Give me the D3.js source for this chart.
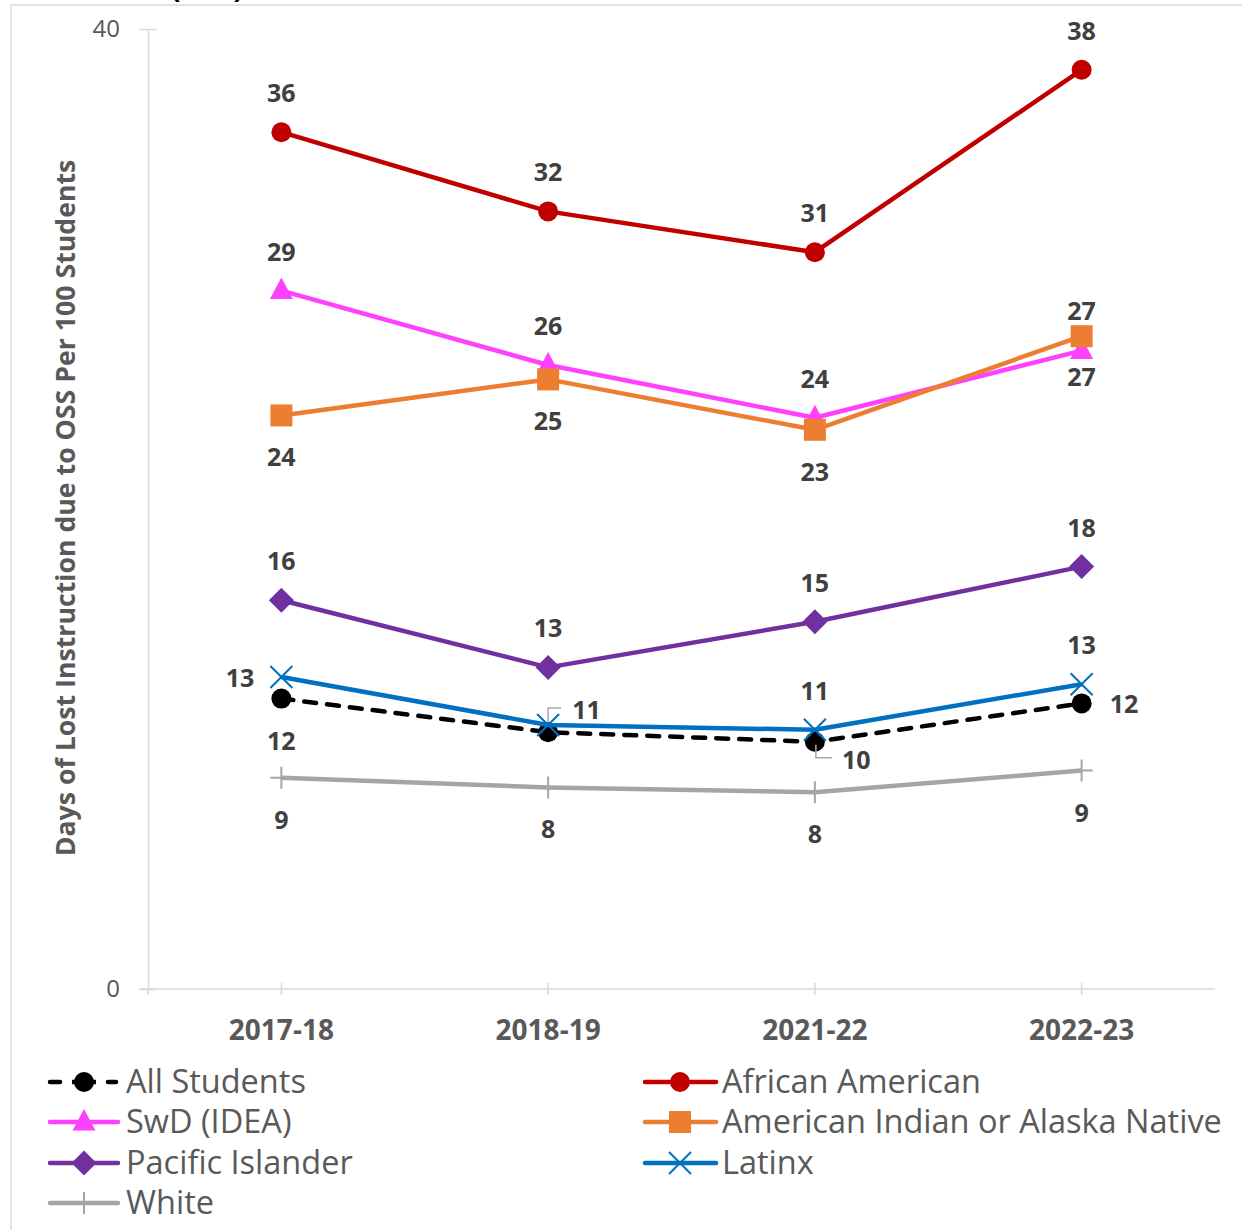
<!DOCTYPE html>
<html><head><meta charset="utf-8">
<script src="https://cdn.jsdelivr.net/npm/d3@7"></script>
<style>
body{margin:0;background:#fff}
svg{display:block}
text{font-family:'Open Sans','Noto Sans',sans-serif}
</style>
</head><body>
<svg id="c" width="1242" height="1230"></svg>
<script>
// ---------- data ----------
const categories = ["2017-18", "2018-19", "2021-22", "2022-23"];
const seriesNames = ["All Students", "African American", "SwD (IDEA)", "American Indian or Alaska Native", "Pacific Islander", "Latinx", "White"];
const allStudents = [12.1, 10.7, 10.3, 11.9];
const africanAmerican = [35.7, 32.4, 30.7, 38.3];
const swdIdea = [29.1, 26.0, 23.8, 26.6];
const americanIndian = [23.9, 25.4, 23.3, 27.2];
const pacificIslander = [16.2, 13.4, 15.3, 17.6];
const latinx = [13.0, 11.0, 10.8, 12.7];
const white = [8.8, 8.4, 8.2, 9.1];
const yTickValues = [0, 40];
const yTitle = "Days of Lost Instruction due to OSS Per 100 Students";

// ---------- styling / layout (not data) ----------
const seriesValues = [allStudents, africanAmerican, swdIdea, americanIndian, pacificIslander, latinx, white];
const styles = [
  {color: "#000000", marker: "circle", dash: "12,11"},
  {color: "#C00000", marker: "circle"},
  {color: "#FF40FF", marker: "triangle"},
  {color: "#ED7D31", marker: "square"},
  {color: "#7030A0", marker: "diamond"},
  {color: "#0070C0", marker: "x"},
  {color: "#A5A5A5", marker: "plus"}
];
const labelPlacement = [
  ["below", "none", "leaderDown", "right"],
  ["above", "above", "above", "above"],
  ["above", "above", "above", "belowNear"],
  ["below", "below", "below", "aboveNear"],
  ["above", "above", "above", "above"],
  ["left", "leaderUp", "above", "above"],
  ["below", "below", "below", "below"]
];

const W = 1242, H = 1230;
const plot = {left: 148, right: 1215, top: 29, bottom: 989};
const svg = d3.select("#c");

// chart border + cut-off title
svg.append("rect").attr("x", 11).attr("y", 5).attr("width", W + 20).attr("height", H + 20)
  .attr("fill", "none").attr("stroke", "#D9D9D9").attr("stroke-width", 1.5);
svg.append("text").attr("x", 243).attr("y", -2).attr("text-anchor", "end")
  .attr("font-size", 28).attr("font-weight", 700).attr("fill", "#000").text("(OSS)");

const x = d3.scaleBand().domain(categories).range([plot.left, plot.right]).padding(0);
const cx = c => x(c) + x.bandwidth() / 2;
const y = d3.scaleLinear().domain([0, 40]).range([plot.bottom, plot.top]);

// y axis
const yAxis = svg.append("g").attr("transform", `translate(${plot.left},0)`)
  .call(d3.axisLeft(y).tickValues(yTickValues).tickSize(0).tickPadding(28));
yAxis.select(".domain").attr("stroke", "#D9D9D9").attr("stroke-width", 1.5);
yAxis.selectAll(".tick text").attr("font-size", 24).attr("fill", "#595959")
  .attr("font-family", "'Open Sans',sans-serif");
yAxis.selectAll(".tick").append("line").attr("x1", -9).attr("x2", 9)
  .attr("stroke", "#D9D9D9").attr("stroke-width", 1.5);

// x axis
const xAxis = svg.append("g").attr("transform", `translate(0,${plot.bottom})`)
  .call(d3.axisBottom(x).tickSize(0).tickPadding(31));
xAxis.select(".domain").remove();
xAxis.append("line").attr("x1", plot.left - 8).attr("x2", plot.right)
  .attr("stroke", "#D9D9D9").attr("stroke-width", 1.5);
xAxis.selectAll(".tick").append("line").attr("y1", -6).attr("y2", 6)
  .attr("stroke", "#D9D9D9").attr("stroke-width", 1.5);
xAxis.append("line").attr("x1", plot.left).attr("x2", plot.left).attr("y1", 0).attr("y2", 6)
  .attr("stroke", "#D9D9D9").attr("stroke-width", 1.5);
xAxis.selectAll(".tick text").attr("font-size", 28).attr("font-weight", 700)
  .attr("fill", "#595959").attr("font-family", "'Open Sans',sans-serif");

// y title, fitted to its length in the reference
const yt = svg.append("text").attr("transform", "translate(75,508) rotate(-90)")
  .attr("text-anchor", "middle").attr("font-size", 24).attr("font-weight", 700)
  .attr("fill", "#595959").text(yTitle);
const len = yt.node().getComputedTextLength();
yt.attr("font-size", 24 * 697 / len);

// marker drawing
function markerPath(type) {
  switch (type) {
    case "circle": return d3.symbol(d3.symbolCircle, Math.PI * 100)();
    case "square": return "M-11,-11H11V11H-11Z";
    case "triangle": return "M0,-13L11.5,8.5L-11.5,8.5Z";
    case "diamond": return "M0,-12.5L12.5,0L0,12.5L-12.5,0Z";
    case "x": return "M-11,-11L11,11M-11,11L11,-11";
    case "plus": return "M0,-11V11M-11,0H11";
  }
}
function drawMarker(g, type, color, px, py) {
  const open = type === "x" || type === "plus";
  g.append("path").attr("d", markerPath(type)).attr("transform", `translate(${px},${py})`)
    .attr("fill", open ? "none" : color).attr("stroke", color)
    .attr("stroke-width", open ? 2 : 0);
}

const line = d3.line().x((d, i) => cx(categories[i])).y(d => y(d));
const gSeries = svg.append("g");
seriesValues.forEach((vals, si) => {
  const st = styles[si];
  const g = gSeries.append("g");
  g.append("path").datum(vals).attr("d", line).attr("fill", "none")
    .attr("stroke", st.color).attr("stroke-width", 4.5)
    .attr("stroke-linecap", st.dash ? "round" : "butt")
    .attr("stroke-linejoin", "round")
    .attr("stroke-dasharray", st.dash || null);
  vals.forEach((v, i) => drawMarker(g, st.marker, st.color, cx(categories[i]), y(v)));
});

// data labels
const gLabels = svg.append("g");
seriesValues.forEach((vals, si) => {
  vals.forEach((v, i) => {
    const pos = labelPlacement[si][i];
    if (pos === "none") return;
    const px = cx(categories[i]), py = y(v);
    let tx = px, tcy = py, anchor = "middle";
    if (pos === "above") tcy = py - 39;
    else if (pos === "below") tcy = py + 42;
    else if (pos === "aboveNear") tcy = py - 25;
    else if (pos === "belowNear") tcy = py + 26;
    else if (pos === "left") { tx = px - 27; anchor = "end"; tcy = py + 1; }
    else if (pos === "right") { tx = px + 28; anchor = "start"; tcy = py + 1; }
    else if (pos === "leaderUp") {
      tx = px + 24; anchor = "start"; tcy = py - 15;
      gLabels.append("path").attr("d", `M${px},${py - 3}V${py - 17}H${px + 13}`)
        .attr("fill", "none").attr("stroke", "#A6A6A6").attr("stroke-width", 1.5);
    } else if (pos === "leaderDown") {
      tx = px + 27; anchor = "start"; tcy = py + 18;
      gLabels.append("path").attr("d", `M${px + 1},${py + 3}V${py + 16}H${px + 17}`)
        .attr("fill", "none").attr("stroke", "#A6A6A6").attr("stroke-width", 1.5);
    }
    gLabels.append("text").attr("x", tx).attr("y", tcy + 9).attr("text-anchor", anchor)
      .attr("font-size", 25).attr("font-weight", 700).attr("fill", "#404040")
      .text(d3.format(".0f")(v));
  });
});

// legend
const legendRows = [1082, 1122, 1163, 1203];
const legendCols = [{x1: 50, x2: 118, mx: 84, tx: 126}, {x1: 645, x2: 716, mx: 680, tx: 722}];
const gLeg = svg.append("g");
seriesNames.forEach((name, si) => {
  const col = legendCols[si % 2], ry = legendRows[Math.floor(si / 2)];
  const st = styles[si];
  if (st.dash) {
    gLeg.append("line").attr("x1", col.x1).attr("x2", col.x1 + 10).attr("y1", ry).attr("y2", ry)
      .attr("stroke", st.color).attr("stroke-width", 4.5).attr("stroke-linecap", "round");
    gLeg.append("line").attr("x1", col.x2 - 10).attr("x2", col.x2 - 2).attr("y1", ry).attr("y2", ry)
      .attr("stroke", st.color).attr("stroke-width", 4.5).attr("stroke-linecap", "round");
    gLeg.append("line").attr("x1", col.mx - 12).attr("x2", col.mx + 12).attr("y1", ry).attr("y2", ry)
      .attr("stroke", st.color).attr("stroke-width", 4.5);
  } else {
    gLeg.append("line").attr("x1", col.x1).attr("x2", col.x2).attr("y1", ry).attr("y2", ry)
      .attr("stroke", st.color).attr("stroke-width", 4.5).attr("stroke-linecap", "round");
  }
  drawMarker(gLeg, st.marker, st.color, col.mx, ry);
  gLeg.append("text").attr("x", col.tx).attr("y", ry + 11).attr("font-size", 32.5)
    .attr("fill", "#595959").text(name);
});
</script>
</body></html>
